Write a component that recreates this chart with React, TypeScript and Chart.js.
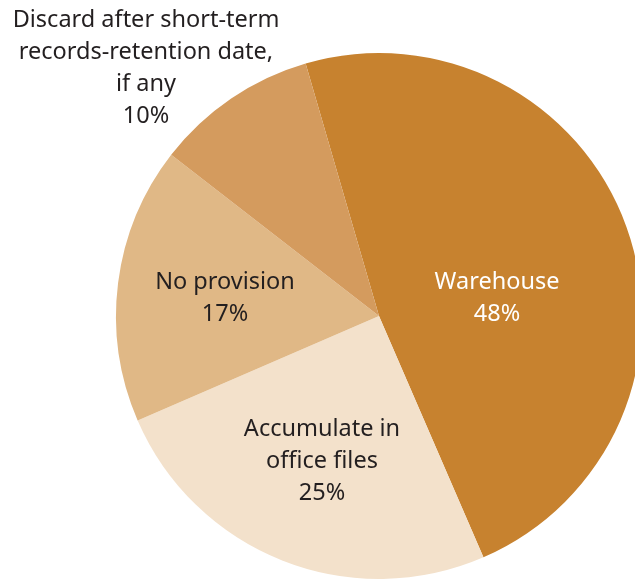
import React, { useEffect, useRef } from "react";
import { Chart, registerables } from "chart.js";

Chart.register(...registerables);

const categories = ["Warehouse", "Accumulate in office files", "No provision", "Discard after short-term records-retention date, if any"];
const values = [48, 25, 17, 10];
const labelLines = [
  ["Warehouse", "48%"],
  ["Accumulate in", "office files", "25%"],
  ["No provision", "17%"],
  ["Discard after short-term", "records-retention date,", "if any", "10%"],
];
const colors = ["#C7822F", "#F3E1CB", "#E0B886", "#D49B5E"];
const textColors = ["#FFFFFF", "#231F20", "#231F20", "#231F20"];
// label block centers relative to the pie center (layout only)
const labelOffsets = [
  [118, -18],
  [-57, 145],
  [-154, -18],
  [-233, -248],
];

const labelPlugin = {
  id: "sliceLabels",
  afterDatasetsDraw(chart: any) {
    const ctx = chart.ctx;
    const meta = chart.getDatasetMeta(0);
    const arc = meta.data[0];
    const cx = arc.x;
    const cy = arc.y;
    const lineH = 32;
    ctx.save();
    ctx.font = '23.5px "Noto Sans", sans-serif';
    ctx.textAlign = "center";
    ctx.textBaseline = "middle";
    labelLines.forEach((lines, i) => {
      const [ox, oy] = labelOffsets[i];
      ctx.fillStyle = textColors[i];
      const startY = cy + oy - ((lines.length - 1) * lineH) / 2;
      lines.forEach((t, j) => {
        ctx.fillText(t, cx + ox, startY + j * lineH);
      });
    });
    ctx.restore();
  },
};

export default function App() {
  const ref = useRef<HTMLCanvasElement>(null);
  useEffect(() => {
    if (!ref.current) return;
    const chart = new Chart(ref.current, {
      type: "pie",
      data: {
        labels: categories,
        datasets: [
          {
            data: values,
            backgroundColor: colors,
            borderWidth: 0,
          },
        ],
      },
      options: {
        responsive: false,
        animation: false,
        devicePixelRatio: 1,
        rotation: -16.2,
        layout: { padding: 53 },
        plugins: {
          legend: { display: false },
          tooltip: { enabled: false },
        },
      },
      plugins: [labelPlugin],
    });
    return () => chart.destroy();
  }, []);
  return (
    <div style={{ position: "fixed", left: 0, top: 0, width: 635, height: 580, overflow: "hidden", background: "#fff" }}>
      <canvas ref={ref} width={758} height={632} style={{ display: "block" }} />
    </div>
  );
}
